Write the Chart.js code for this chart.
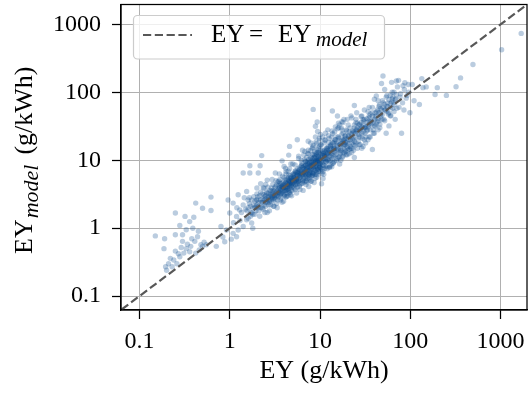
<!DOCTYPE html>
<html>
<head>
<meta charset="utf-8">
<script src="https://cdn.jsdelivr.net/npm/chart.js@4.4.1/dist/chart.umd.min.js"></script>
<style>
  html, body { margin: 0; padding: 0; background: #fff; }
  #wrap { width: 531px; height: 394px; }
</style>
</head>
<body>
<div id="wrap"><canvas id="scatterChart" width="531" height="394"></canvas></div>
<script>
// measured EY (g/kWh)
const ey = [
  // low range
  0.15, 0.195, 0.21, 0.187, 0.25, 0.32, 0.25, 0.42, 0.62, 0.62,
  0.39, 0.36, 0.50, 0.33, 0.30, 0.37, 0.50, 0.42, 0.28, 0.24,
  0.23, 0.20, 0.26, 0.41, 0.30, 0.48, 0.55, 0.36, 0.31, 0.27,
  0.22, 0.34, 0.44, 0.29, 0.38, 0.46, 0.25, 0.40, 0.33, 0.19,
  0.71, 0.88, 0.45, 0.28, 0.52,
  // 1 - 2
  1.0, 0.96, 1.09, 0.80, 0.92, 1.19, 1.29, 1.41, 1.6, 1.8,
  1.99, 1.75, 1.54, 1.75, 1.09, 1.24, 1.04, 0.84, 1.54, 1.24,
  1.8, 1.41, 1.19, 1.41, 1.67, 2.17, 2.07, 1.67, 2.26, 1.3,
  1.5, 1.65, 1.85, 1.95, 1.1, 1.35, 1.7, 1.9, 1.2, 1.45,
  // 2 - 5
  2.0, 2.1, 2.2, 2.3, 2.4, 2.5, 2.2, 2.6, 2.7, 2.8,
  2.9, 3.0, 3.1, 3.2, 3.3, 3.4, 3.5, 3.6, 3.7, 3.8,
  3.9, 4.0, 4.1, 4.2, 4.3, 4.4, 4.5, 4.6, 4.7, 4.8,
  4.9, 5.0, 2.3, 2.5, 2.7, 2.9, 3.1, 3.3, 3.5, 3.7,
  3.9, 4.1, 4.3, 4.5, 4.7, 4.9, 2.4, 2.6, 2.8, 3.0,
  3.2, 3.4, 3.6, 3.8, 4.0, 4.2, 4.4, 4.6, 4.8, 2.05,
  2.35, 2.65, 2.95, 3.25, 3.55, 3.85, 4.15, 4.45, 4.75, 2.15,
  2.45, 2.75, 3.05, 3.35, 3.65, 3.95, 4.25, 4.55, 4.85, 2.55,
  2.85, 3.15, 3.45, 3.75, 4.05, 4.35, 4.65, 4.95, 3.0, 3.6,
  4.2, 2.2, 2.6, 3.2, 2.0, 3.8, 4.5, 4.6, 2.5, 4.0,
  // 5 - 15
  5.2, 5.4, 5.6, 5.8, 6.0, 6.2, 6.4, 6.6, 6.8, 7.0,
  7.2, 7.4, 7.6, 7.8, 8.0, 8.2, 8.4, 8.6, 8.8, 9.0,
  9.2, 9.4, 9.6, 9.8, 10.0, 10.3, 10.6, 10.9, 11.2, 11.5,
  11.8, 12.1, 12.4, 12.7, 13.0, 13.3, 13.6, 13.9, 14.2, 14.6,
  5.1, 5.3, 5.5, 5.7, 5.9, 6.1, 6.3, 6.5, 6.7, 6.9,
  7.1, 7.3, 7.5, 7.7, 7.9, 8.1, 8.3, 8.5, 8.7, 8.9,
  9.1, 9.3, 9.5, 9.7, 9.9, 10.2, 10.5, 10.8, 11.1, 11.4,
  11.7, 12.0, 12.3, 12.6, 12.9, 13.2, 13.5, 13.8, 14.1, 14.5,
  5.3, 5.8, 6.2, 6.8, 7.3, 7.9, 8.4, 8.9, 9.4, 10.1,
  5.5, 6.0, 6.5, 7.0, 7.5, 8.0, 8.6, 9.2, 10.4, 11.0,
  6.6, 7.2, 7.8, 8.3, 8.8, 9.3, 9.8, 10.7, 11.6, 12.5,
  5.6, 6.1, 6.9, 7.6, 8.2, 9.0, 9.9, 10.9, 11.9, 13.4,
  8.4, 13.7, 8.9, 9.3, 5.6, 6.6, 10.8, 7.4, 6.4, 12.2,
  // 15 - 40
  15, 16, 17, 18, 19, 20, 21, 22, 23, 24,
  25, 26, 27, 28, 29, 30, 31, 32, 34, 36,
  38, 40, 15.5, 16.5, 17.5, 18.5, 19.5, 20.5, 21.5, 22.5,
  23.5, 24.5, 25.5, 26.5, 27.5, 28.5, 29.5, 31, 33, 35,
  37, 39, 15.6, 24, 18.5, 38, 20, 16, 18, 22,
  25, 30, 34, 17, 21, 26, 28, 33, 36, 19,
  23, 27, 31, 35, 24, 29, 32, 15.2, 16.8, 20.8,
  // 40 - 100
  41, 43, 45, 47, 49, 51, 53, 55, 57, 60,
  63, 66, 69, 72, 75, 78, 82, 86, 90, 95,
  40, 49.8, 48, 70, 87, 99, 80, 44, 52, 58,
  62, 68, 74, 85, 92, 42, 46, 56, 65, 77,
  83, 96, 54, 61, 71,
  // above 100
  126, 188, 199, 251, 321, 360, 494, 1026, 1690, 134,
  138, 110, 150, 105,
  // dense core, 1.5 - 3
  1.55, 1.6, 1.7, 1.75, 1.8, 1.85, 1.9, 1.95, 2.0, 2.05,
  2.1, 2.15, 2.2, 2.25, 2.3, 2.35, 2.4, 2.45, 2.5, 2.55,
  2.6, 2.65, 2.7, 2.75, 2.8, 2.85, 2.9, 2.95, 3.0, 1.6,
  1.7, 1.9, 2.1, 2.3, 2.5, 2.7, 2.9, 1.65, 2.0, 2.4,
  // dense core, 3 - 6
  3.0, 3.05, 3.1, 3.15, 3.2, 3.25, 3.3, 3.35, 3.4, 3.45,
  3.5, 3.55, 3.6, 3.65, 3.7, 3.75, 3.8, 3.85, 3.9, 3.95,
  4.0, 4.05, 4.1, 4.15, 4.2, 4.25, 4.3, 4.35, 4.4, 4.45,
  4.5, 4.55, 4.6, 4.65, 4.7, 4.75, 4.8, 4.85, 4.9, 4.95,
  5.0, 5.05, 5.1, 5.15, 5.2, 5.25, 5.3, 5.35, 5.4, 5.45,
  5.5, 5.55, 5.6, 5.65, 5.7, 5.75, 5.8, 5.85, 5.9, 5.95,
  3.3, 3.6, 3.9, 4.2, 4.5, 4.8, 5.1, 5.4, 5.7, 3.5,
  // dense core, 6 - 12
  6.0, 6.1, 6.2, 6.3, 6.4, 6.5, 6.6, 6.7, 6.8, 6.9,
  7.0, 7.1, 7.2, 7.3, 7.4, 7.5, 7.6, 7.7, 7.8, 7.9,
  8.0, 8.1, 8.2, 8.3, 8.4, 8.5, 8.6, 8.7, 8.8, 8.9,
  9.0, 9.1, 9.2, 9.3, 9.4, 9.5, 9.6, 9.7, 9.8, 9.9,
  10.0, 10.2, 10.4, 10.6, 10.8, 11.0, 11.2, 11.4, 11.6, 11.8,
  6.3, 6.7, 7.1, 7.5, 7.9, 8.3, 8.7, 9.1, 9.5, 9.9,
  10.3, 10.7, 11.1, 11.5, 6.4, 7.0, 7.6, 8.2, 8.8, 9.4,
  10.0, 10.6, 11.2, 11.8, 6.9, 7.7, 8.5, 9.3, 10.1, 10.9,
  // dense core, 12 - 25
  12.0, 12.3, 12.6, 12.9, 13.2, 13.5, 13.8, 14.1, 14.4, 14.7,
  15.0, 15.4, 15.8, 16.2, 16.6, 17.0, 17.4, 17.8, 18.2, 18.6,
  19.0, 19.4, 19.8, 20.2, 20.6, 21.0, 21.5, 22.0, 22.5, 23.0,
  23.5, 24.0, 24.5, 12.5, 13.5, 14.5, 15.5, 16.5, 17.5, 12.8,
  14.0, 15.2, 16.4, 17.6, 18.8, 20.0, 21.2, 22.4, 23.6, 24.8,
  // 25 - 70
  25.5, 27, 28.5, 30, 31.5, 33, 34.5, 36, 37.5, 39,
  41, 43, 45, 47, 49, 52, 55, 58, 61, 64,
  67, 30, 35, 40, 45, 50, 26, 28, 32, 42,
  // wider spread, 4 - 10
  4.2, 4.6, 5.0, 5.4, 5.8, 6.2, 6.6, 7.0, 7.4, 7.8,
  8.2, 8.6, 9.0, 9.4, 9.8, 4.4, 4.8, 5.2, 5.6, 6.0,
  6.4, 6.8, 7.2, 7.6, 8.0, 8.4, 8.8, 9.2, 9.6, 10.0,
  5.1, 5.9, 6.3, 7.1, 7.7, 8.1, 8.9, 9.6, 6.0, 7.0,
  8.0, 9.0, 10.0, 4.0, 4.5, 5.3, 6.7, 7.5, 8.5, 9.5,
  // wider spread, 10 - 25
  10.5, 11, 11.5, 12, 12.5, 13, 13.5, 14, 14.5, 15,
  15.5, 16, 16.5, 17, 17.5, 18, 18.5, 19, 19.5, 20,
  10.2, 11.3, 12.4, 13.6, 14.8, 16, 17.2, 18.4, 10.8, 12,
  13.2, 14.4, 15.6, 16.8, 18, 19.2, 20.4, 21.6, 22.8, 24,
  11.2, 12.6, 14.2, 15.8, 17.4, 19, 20.6, 22.2, 23.8, 25,
  // wider spread, 25 - 70
  26, 27.5, 29, 30.5, 32, 33.5, 35, 36.5, 38, 39.5,
  41, 42.5, 44, 45.5, 47, 48.5, 50, 52, 54, 56,
  58, 60, 62, 64, 66, 68, 70, 27, 31, 35,
  40, 46, 52, 60, 25, 29, 34, 38, 44, 30,
  36, 42, 48, 55, 63
];

// modelled EY (g/kWh), same order as ey
const eyModel = [
  0.77, 0.27, 0.30, 0.50, 0.80, 1.49, 1.67, 2.34, 2.87, 1.82,
  1.0, 1.25, 1.97, 0.50, 0.64, 0.54, 0.54, 0.43, 0.38, 0.34,
  0.27, 0.24, 0.30, 0.64, 0.80, 0.57, 0.57, 0.45, 0.43, 0.42,
  0.36, 0.58, 0.75, 0.52, 0.70, 0.48, 0.46, 1.45, 0.95, 0.70,
  0.54, 0.63, 0.90, 1.1, 0.62,

  1.67, 2.6, 2.34, 1.06, 0.94, 1.49, 1.86, 2.2, 2.6, 1.97,
  2.6, 1.67, 1.33, 1.19, 0.84, 0.94, 0.69, 0.74, 3.48, 3.1,
  1.0, 1.06, 0.75, 6.5, 8.3, 8.3, 6.5, 6.5, 11.7, 1.3,
  1.9, 2.3, 2.9, 2.1, 1.2, 1.7, 1.5, 1.6, 2.0, 2.8,

  2.2, 1.8, 2.6, 2.0, 3.1, 2.4, 3.4, 1.7, 2.9, 3.6,
  2.5, 3.3, 2.1, 4.1, 3.0, 2.6, 3.8, 4.6, 3.2, 2.4,
  4.0, 3.5, 5.1, 2.9, 4.4, 3.8, 5.6, 4.2, 3.1, 5.0,
  4.6, 6.2, 2.7, 3.0, 2.2, 3.9, 3.5, 2.3, 4.3, 2.8,
  3.3, 4.0, 3.3, 4.8, 5.5, 3.6, 2.2, 3.3, 2.6, 2.7,
  3.1, 4.8, 3.4, 3.8, 4.4, 3.6, 5.3, 3.4, 4.3, 2.9,
  3.9, 4.0, 5.2, 5.0, 6.3, 5.8, 7.6, 6.9, 8.8, 1.5,
  1.7, 1.8, 2.1, 2.0, 2.6, 2.5, 2.9, 3.3, 3.0, 2.5,
  3.1, 2.8, 3.4, 4.1, 3.1, 4.0, 4.7, 5.1, 4.4, 5.2,
  6.3, 4.5, 5.1, 6.5, 3.9, 9.8, 11.9, 16, 4.4, 8.1,

  5.5, 4.4, 6.6, 5.0, 7.2, 4.5, 6.1, 8.0, 5.6, 7.0,
  9.1, 6.3, 5.1, 8.4, 7.6, 10.4, 6.6, 9.0, 5.4, 11.2,
  8.0, 9.7, 6.9, 12.5, 9.0, 7.6, 11.8, 9.4, 14.1, 8.2,
  12.0, 10.2, 16.0, 7.8, 13.0, 11.1, 18.2, 9.1, 14.5, 12.0,
  6.4, 3.7, 5.2, 7.5, 4.1, 5.8, 8.4, 5.1, 6.9, 9.6,
  4.8, 7.9, 10.3, 6.5, 4.9, 9.0, 12.2, 7.4, 11.0, 8.1,
  6.2, 14.3, 10.6, 8.5, 16.2, 11.0, 6.4, 13.4, 10.7, 19.5,
  9.5, 15.1, 12.8, 21.0, 10.0, 16.5, 8.0, 24.5, 11.5, 19.0,
  8.5, 10.6, 10.0, 13.5, 12.6, 18.0, 16.5, 22.0, 26.5, 24.0,
  3.3, 3.7, 3.6, 4.4, 4.1, 4.9, 4.7, 5.6, 4.5, 6.2,
  6.6, 5.7, 7.3, 8.3, 9.7, 7.4, 10.3, 8.6, 11.3, 9.6,
  4.8, 6.5, 7.6, 8.8, 6.0, 9.6, 7.9, 12.5, 13.8, 14.8,
  56, 53, 31.7, 36.5, 20, 6.1, 5.4, 19, 14, 28,

  14, 11, 19, 13, 23, 16, 26, 15, 20, 30,
  18, 35, 22, 17, 31, 26, 40, 22, 33, 28,
  45, 32, 22, 8.8, 28, 17, 12, 33, 20, 42,
  14, 25, 50, 19, 29, 44, 21, 55, 27, 60,
  38, 25, 44.7, 64, 20.2, 14.4, 40, 30, 36, 45,
  40, 16, 20, 10, 12.5, 15, 28, 36, 22, 17,
  27, 33, 30, 45, 11, 15, 18, 18, 15, 23,

  50, 37, 62, 44, 75, 40, 55, 90, 48, 68,
  100, 52, 80, 120, 60, 95, 70, 110, 82, 130,
  79, 174, 135, 147, 138, 50, 25, 28, 110, 32,
  140, 40, 150, 55, 90, 88, 30, 70, 70, 85,
  125, 100, 25, 45, 58,

  66, 93, 117, 90, 121, 163, 256, 422, 736, 159,
  117, 75, 120, 130,

  1.8, 1.4, 2.1, 2.6, 1.6, 2.2, 2.5, 1.8, 2.6, 2.0,
  2.4, 3.0, 2.0, 2.4, 3.2, 1.9, 2.6, 2.9, 2.1, 3.4,
  2.4, 2.8, 3.3, 2.4, 3.0, 2.2, 3.5, 2.8, 3.0, 2.0,
  1.7, 2.0, 2.1, 2.4, 2.7, 2.6, 2.9, 2.8, 3.2, 3.9,

  3.6, 2.6, 3.0, 3.9, 2.7, 3.3, 4.3, 3.0, 3.6, 2.9,
  3.3, 4.0, 3.1, 3.7, 4.5, 3.3, 4.1, 3.6, 4.8, 3.9,
  3.0, 4.3, 3.6, 4.6, 3.9, 5.2, 3.7, 4.5, 4.1, 3.6,
  4.4, 5.0, 3.9, 4.6, 5.9, 4.2, 4.8, 5.3, 4.0, 4.6,
  5.0, 4.2, 5.6, 4.7, 6.2, 5.0, 4.4, 5.7, 6.6, 4.8,
  5.4, 6.1, 4.5, 5.9, 5.2, 6.9, 4.9, 6.3, 5.5, 7.4,
  3.5, 3.9, 4.3, 4.7, 5.1, 5.5, 5.9, 5.2, 6.5, 4.9,

  6.1, 5.2, 7.0, 6.0, 7.8, 6.4, 5.4, 7.4, 6.6, 8.4,
  5.9, 7.3, 6.5, 8.9, 7.0, 6.0, 7.8, 9.4, 6.6, 8.2,
  9.8, 7.1, 8.6, 6.3, 9.2, 10.8, 7.8, 8.9, 11.5, 7.2,
  8.6, 10.0, 12.2, 8.8, 7.3, 9.5, 11.0, 13.0, 9.0, 8.0,
  10.5, 12.3, 9.3, 14.0, 10.1, 8.4, 11.6, 13.1, 9.6, 15.0,
  9.0, 10.2, 11.0, 12.4, 13.8, 15.5, 13.4, 17.5, 15.0, 19.8,
  16.8, 22.0, 18.0, 25.0, 4.6, 5.0, 5.5, 5.9, 6.2, 6.1,
  6.9, 7.3, 7.5, 8.0, 6.3, 7.0, 8.1, 9.9, 8.6, 11.7,

  12.5, 10.0, 14.0, 11.6, 17.0, 12.6, 10.5, 15.5, 13.3, 20.0,
  12.0, 16.8, 14.0, 21.0, 13.0, 17.5, 24.0, 15.0, 19.5, 12.8,
  22.5, 18.0, 27.0, 15.0, 20.5, 17.5, 30.0, 22.0, 18.0, 25.5,
  21.0, 33.0, 16.5, 18.5, 22.0, 26.0, 29.0, 33.0, 37.0, 8.0,
  9.0, 10.0, 11.2, 11.0, 14.0, 12.0, 14.5, 13.0, 17.0, 22.0,

  28, 24, 36, 30, 25, 41, 31, 48, 35, 28,
  44, 55, 38, 58, 47, 66, 52, 78, 60, 85,
  66, 40, 38, 40, 50, 60, 30, 22, 30, 34,

  6.8, 7.5, 8.8, 7.0, 11.5, 8.3, 12.0, 9.5, 14.0, 10.5,
  15.0, 12.0, 18.5, 13.0, 21.0, 3.0, 3.6, 3.9, 4.0, 4.4,
  5.0, 4.8, 5.4, 6.1, 5.8, 6.4, 7.0, 6.6, 7.4, 7.8,
  5.3, 6.0, 6.7, 7.7, 8.0, 8.4, 9.2, 10.0, 7.9, 8.6,
  11.0, 12.8, 14.0, 5.6, 6.1, 6.9, 8.2, 9.3, 9.8, 11.6,

  10.2, 12.7, 10.8, 14.5, 11.5, 16, 13.5, 18, 15, 20,
  16.5, 22, 17, 14, 20, 25, 16.5, 21, 28, 19,
  17, 20, 23, 27, 31, 35, 30, 40, 6.8, 7.5,
  8.5, 9.5, 10.5, 12.5, 11.5, 13.5, 14, 16, 15, 19,
  11.9, 13.2, 14.8, 14.6, 17.8, 18.5, 22.5, 24.5, 26, 28,

  26, 34, 25, 38, 31, 28, 42, 33, 50, 38,
  32, 52, 41, 65, 48, 40, 70, 55, 85, 62,
  50, 90, 72, 58, 100, 78, 92, 17, 20, 22,
  25, 34, 38, 45, 36, 45, 52, 60, 75, 33,
  36, 45, 55, 62, 80
];

const identityLine = [0.05, 2500];          // EY = EY_model reference
const tickValues = [0.1, 1, 10, 100, 1000];
const tickLabels = ['0.1', '1', '10', '100', '1000'];
const axisMin = 0.0625;
const axisMax = 1960;

const serif = "'Liberation Serif', 'DejaVu Serif', serif";
const tickFont = { family: serif, size: 24 };

function labelFor(v) {
  for (let i = 0; i < tickValues.length; i++) {
    if (Math.abs(Math.log10(v) - Math.log10(tickValues[i])) < 1e-6) return tickLabels[i];
  }
  return '';
}

const points = ey.map((v, i) => ({ x: v, y: eyModel[i] }));

// no end-label padding, the frame is placed by hand
function fixPadding(s) {
  s.paddingTop = 0;
  s.paddingBottom = 0;
  s.paddingLeft = 0;
  s.paddingRight = 0;
}

// frame, legend and y title (subscripts need manual drawing)
const decorPlugin = {
  id: 'decor',
  afterDraw(chart) {
    const ctx = chart.ctx;
    const a = chart.chartArea;
    ctx.save();

    ctx.strokeStyle = '#000';
    ctx.lineWidth = 1.25;
    ctx.strokeRect(a.left, a.top, a.right - a.left, a.bottom - a.top);

    // legend box
    const lx = 133.5, ly = 15.5, lw = 251, lh = 43.5;
    ctx.beginPath();
    ctx.roundRect(lx, ly, lw, lh, 4);
    ctx.fillStyle = 'rgba(255,255,255,0.8)';
    ctx.fill();
    ctx.strokeStyle = '#cccccc';
    ctx.lineWidth = 1.2;
    ctx.stroke();

    ctx.beginPath();
    ctx.setLineDash([8.2, 3.6]);
    ctx.strokeStyle = '#585858';
    ctx.lineWidth = 2.2;
    ctx.moveTo(143, 35);
    ctx.lineTo(192, 35);
    ctx.stroke();
    ctx.setLineDash([]);

    ctx.fillStyle = '#000';
    ctx.textBaseline = 'alphabetic';
    ctx.textAlign = 'left';
    ctx.font = "25px " + serif;
    ctx.fillText('EY', 211, 41.5);
    ctx.fillText('=', 249, 41.5);
    ctx.fillText('EY', 278, 41.5);
    ctx.font = "italic 21px " + serif;
    ctx.fillText('model', 316, 45.5);

    // y axis title
    ctx.rotate(-Math.PI / 2);
    const base = 31.5;
    let u = -254;
    ctx.font = "26px " + serif;
    ctx.fillText('EY', u, base);
    u += ctx.measureText('EY').width + 1;
    ctx.font = "italic 22px " + serif;
    ctx.fillText('model', u, base + 6);
    u += ctx.measureText('model').width + 10;
    ctx.font = "26px " + serif;
    ctx.fillText('(g/kWh)', u, base);

    ctx.restore();
  }
};

new Chart(document.getElementById('scatterChart'), {
  type: 'scatter',
  data: {
    datasets: [
      {
        type: 'line',
        label: 'EY = EY_model',
        data: identityLine.map(v => ({ x: v, y: v })),
        borderColor: '#585858',
        borderWidth: 2.2,
        borderDash: [8.2, 3.6],
        pointRadius: 0,
        fill: false,
        clip: 0,
        order: 0
      },
      {
        label: 'EY',
        data: points,
        backgroundColor: 'rgba(8,72,140,0.28)',
        borderWidth: 0,
        pointRadius: 2.7,
        order: 1
      }
    ]
  },
  options: {
    responsive: false,
    animation: false,
    layout: { padding: { left: 0, right: 1.5, top: 4.5, bottom: 0 } },
    plugins: { legend: { display: false }, tooltip: { enabled: false } },
    scales: {
      x: {
        type: 'logarithmic',
        min: axisMin,
        max: axisMax,
        afterBuildTicks: s => { s.ticks = tickValues.map(v => ({ value: v })); },
        afterFit: s => { s.height = 84; fixPadding(s); },
        ticks: { callback: v => labelFor(v), font: tickFont, color: '#000', padding: 8, maxRotation: 0, autoSkip: false },
        grid: { color: '#b0b0b0', lineWidth: 1, tickColor: '#000', tickLength: 9, tickWidth: 1.25 },
        border: { display: true, color: '#000', width: 1.25 },
        title: { display: true, text: 'EY (g/kWh)', font: { family: serif, size: 26 }, color: '#000', padding: { top: 0, bottom: 7 } }
      },
      y: {
        type: 'logarithmic',
        min: axisMin,
        max: axisMax,
        afterBuildTicks: s => { s.ticks = tickValues.map(v => ({ value: v })); },
        afterFit: s => { s.width = 121; fixPadding(s); },
        ticks: { callback: v => labelFor(v), font: tickFont, color: '#000', padding: 11, autoSkip: false },
        grid: { color: '#b0b0b0', lineWidth: 1, tickColor: '#000', tickLength: 9, tickWidth: 1.25 },
        border: { display: true, color: '#000', width: 1.25 }
      }
    }
  },
  plugins: [decorPlugin]
});
</script>
</body>
</html>
